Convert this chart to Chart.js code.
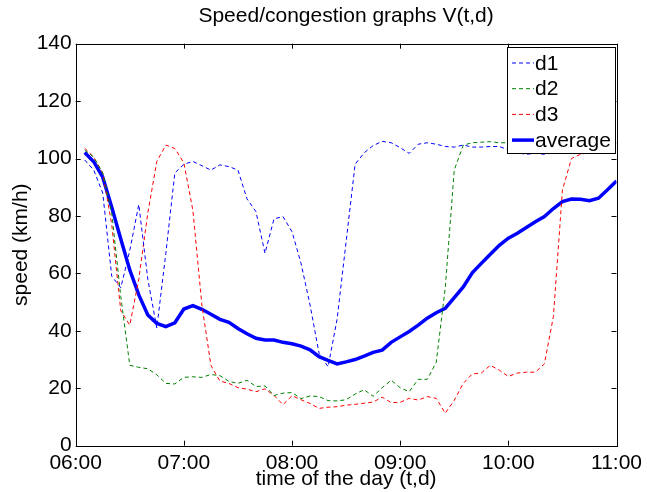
<!DOCTYPE html>
<html>
<head>
<meta charset="utf-8">
<script src="https://cdn.jsdelivr.net/npm/chart.js@4.4.0/dist/chart.umd.min.js"></script>
<style>
    html, body { margin: 0; padding: 0; background: #ffffff; }
    #grafico { display: block; }
</style>
</head>
<body>
<canvas id="grafico" width="647" height="492"></canvas>
<script>
// minutos depois das 06:00, amostras de 5 em 5
const minutos = [
    5, 10, 15, 20, 25, 30, 35, 40, 45, 50,
    55, 60, 65, 70, 75, 80, 85, 90, 95, 100,
    105, 110, 115, 120, 125, 130, 135, 140, 145, 150,
    155, 160, 165, 170, 175, 180, 185, 190, 195, 200,
    205, 210, 215, 220, 225, 230, 235, 240, 245, 250,
    255, 260, 265, 270, 275, 280, 285, 290, 295, 300
];

const rotulosHora = ["06:00", "07:00", "08:00", "09:00", "10:00", "11:00"];

const d1 = [
    99.5, 96, 88, 59, 55, 68, 84, 58, 41, 67,
    95, 98, 99, 97.5, 96, 97.8, 97.2, 96, 86, 81.5,
    67, 79, 79.8, 74.5, 63.5, 49, 32.2, 27.5, 44, 71,
    98, 102, 104.5, 106, 105.5, 103.8, 101.8, 105, 105.5, 105,
    104.2, 104, 104.7, 104, 104, 104.2, 104.2, 103, 102, 101.5,
    101.8, 101.5, 102, 102.5, 102.5, 103, 103, 103, 103.2, 103.5
];

const d2 = [
    103, 100.5, 95, 81, 52, 28, 27.3, 26.8, 24.7, 21.7,
    21.5, 23.8, 24, 23.8, 24.8, 24.4, 22.4, 21.7, 22.8, 20.6,
    20.8, 17.5, 18.3, 18.5, 16.4, 17.3, 17.1, 15.7, 15.6, 16,
    18, 19.5, 17.2, 20.2, 22.8, 20.2, 18.8, 23.1, 23.1, 29,
    55, 96, 104.7, 105.5, 105.7, 105.9, 105.5, 105.5, 105.5, 105.5,
    105.5, 105.5, 105.5, 105.5, 105.5, 105.5, 105.5, 105.5, 105.5, 105.5
];

const d3 = [
    103.6, 100.5, 95, 77, 47, 42, 58, 81, 99, 104.7,
    103.5, 98.5, 82, 49, 28, 22.5, 21.7, 20.2, 19.7, 18.8,
    19.8, 17.5, 14.3, 17.4, 16, 14.7, 13, 13.4, 13.6, 14.1,
    14.4, 14.8, 15.2, 16.9, 15, 15.1, 16.5, 15.9, 17.1, 16.5,
    11.3, 15.8, 21.7, 25, 25.3, 28, 26.3, 24.1, 25.3, 25.6,
    25.6, 28.5, 45, 89, 100, 101.5, 102, 102.5, 103, 103.5
];

const media = [
    102.1, 98.9, 93.5, 83, 72, 61.2, 52.5, 45.5, 42.6, 41.5,
    42.8, 47.6, 48.8, 47.5, 45.8, 44, 43, 40.8, 39, 37.4,
    36.8, 36.8, 36, 35.5, 34.7, 33.4, 31, 29.7, 28.5, 29.2,
    30, 31.2, 32.5, 33.3, 36, 37.9, 39.8, 42, 44.4, 46.3,
    47.8, 51.6, 55.3, 60.2, 63.5, 66.7, 69.8, 72.3, 74, 76,
    78, 79.8, 82.6, 85, 85.9, 85.8, 85.3, 86.2, 89.1, 92.2
];

const fonte = "'Liberation Sans', Arial, Helvetica, sans-serif";

function pontos(valores) {
    return minutos.map((m, i) => ({ x: m, y: valores[i] }));
}

function serieTracejada(nome, valores, cor) {
    return {
        label: nome,
        data: pontos(valores),
        borderColor: cor,
        borderWidth: 1,
        borderDash: [4, 3],
        pointRadius: 0,
        tension: 0,
        fill: false,
    };
}

// caixa e tracinhos para dentro, estilo matlab
const moldura = {
    id: "moldura",
    afterDatasetsDraw(chart) {
        const ctx = chart.ctx;
        const area = chart.chartArea;
        const sx = chart.scales.x;
        const sy = chart.scales.y;
        ctx.save();
        ctx.strokeStyle = "#000000";
        ctx.lineWidth = 1;
        ctx.beginPath();
        for (let m = 0; m <= 300; m += 60) {
            const px = Math.round(sx.getPixelForValue(m)) + 0.5;
            ctx.moveTo(px, area.bottom);
            ctx.lineTo(px, area.bottom - 5);
            ctx.moveTo(px, area.top);
            ctx.lineTo(px, area.top + 5);
        }
        for (let v = 0; v <= 140; v += 20) {
            const py = Math.round(sy.getPixelForValue(v)) + 0.5;
            ctx.moveTo(area.left, py);
            ctx.lineTo(area.left + 5, py);
            ctx.moveTo(area.right, py);
            ctx.lineTo(area.right - 5, py);
        }
        ctx.stroke();
        ctx.strokeRect(Math.round(area.left) + 0.5, Math.round(area.top) + 0.5,
            Math.round(area.right - area.left), Math.round(area.bottom - area.top));

        // legenda dentro do grafico
        const lx = 507.5, ly = 47.5, lw = 108, lh = 106;
        ctx.fillStyle = "#ffffff";
        ctx.fillRect(lx, ly, lw, lh);
        ctx.strokeRect(lx, ly, lw, lh);
        ctx.font = "21px " + fonte;
        ctx.textBaseline = "middle";
        ctx.textAlign = "left";
        chart.data.datasets.forEach((ds, i) => {
            const yy = 63 + i * 25.7;
            ctx.beginPath();
            ctx.strokeStyle = ds.borderColor;
            ctx.lineWidth = ds.borderWidth;
            ctx.setLineDash(ds.borderDash || []);
            ctx.moveTo(512, yy);
            ctx.lineTo(534, yy);
            ctx.stroke();
            ctx.setLineDash([]);
            ctx.fillStyle = "#000000";
            ctx.fillText(ds.label, 535, yy + 1);
        });
        ctx.restore();
    }
};

const ctx = document.getElementById("grafico").getContext("2d");

new Chart(ctx, {
    type: "line",
    data: {
        datasets: [
            serieTracejada("d1", d1, "#0000ff"),
            serieTracejada("d2", d2, "#008000"),
            serieTracejada("d3", d3, "#ff0000"),
            {
                label: "average",
                data: pontos(media),
                borderColor: "#0000ff",
                borderWidth: 3.5,
                pointRadius: 0,
                tension: 0,
                fill: false,
            },
        ],
    },
    options: {
        responsive: false,
        animation: false,
        layout: { padding: { left: 0, right: 27.7, top: 0, bottom: 0 } },
        plugins: {
            legend: { display: false },
            tooltip: { enabled: false },
            title: {
                display: true,
                text: "Speed/congestion graphs V(t,d)",
                color: "#000000",
                fullSize: false,
                font: { family: fonte, size: 21, weight: "normal" },
                padding: { top: 4, bottom: 14.5 },
            },
        },
        scales: {
            x: {
                type: "linear",
                min: 0,
                max: 300,
                grid: { display: false, drawTicks: false },
                border: { display: false },
                ticks: {
                    stepSize: 60,
                    color: "#000000",
                    padding: 5,
                    maxRotation: 0,
                    font: { family: fonte, size: 21 },
                    callback: (v) => rotulosHora[v / 60],
                },
                title: {
                    display: true,
                    text: "time of the day (t,d)",
                    color: "#000000",
                    font: { family: fonte, size: 21 },
                    padding: { top: 0, bottom: 0 },
                },
                afterFit: (escala) => { escala.height = 46.3; },
            },
            y: {
                min: 0,
                max: 140,
                grid: { display: false, drawTicks: false },
                border: { display: false },
                ticks: {
                    stepSize: 20,
                    color: "#000000",
                    padding: 4,
                    font: { family: fonte, size: 21 },
                },
                title: {
                    display: true,
                    text: "speed (km/h)",
                    color: "#000000",
                    font: { family: fonte, size: 21 },
                    padding: { top: 9, bottom: 0 },
                },
                afterFit: (escala) => { escala.width = 75.7; },
            },
        },
    },
    plugins: [moldura],
});
</script>
</body>
</html>
